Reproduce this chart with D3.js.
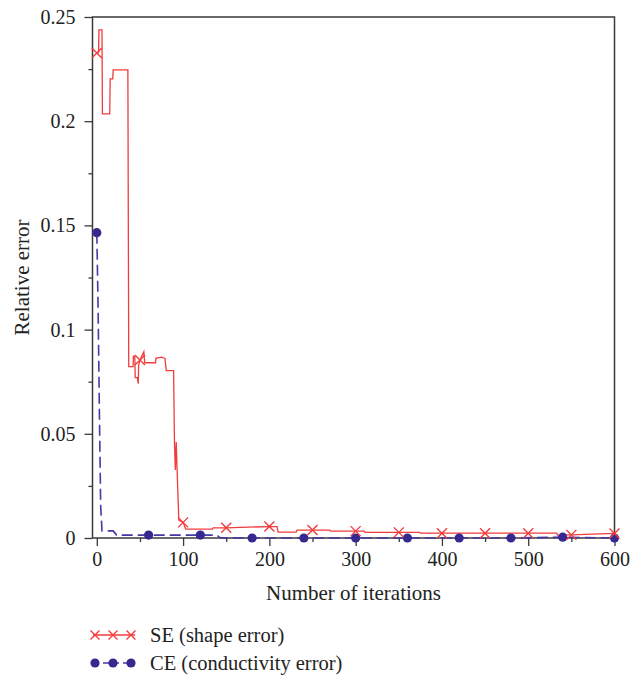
<!DOCTYPE html>
<html>
<head>
<meta charset="utf-8">
<script src="https://cdn.jsdelivr.net/npm/d3@7"></script>
<style>
  body { margin: 0; background: #fff; }
</style>
</head>
<body>
<div id="chart"></div>
<script>
// SE (shape error) curve
const seIter = [0, 2, 2.5, 6, 6.5, 15, 15.5, 18.5, 19, 36, 37, 42, 42.5, 44, 44.5, 47, 48, 48.5, 50,
  54.5, 55.5, 68, 68.5, 75, 79, 80.5, 89, 90, 91, 92, 95, 100, 103, 134, 135, 150, 200, 209, 210,
  231, 232, 250, 270, 271, 300, 310, 311, 350, 374, 375, 400, 450, 500, 533, 534, 550, 600];
const seValue = [0.2327, 0.233, 0.2438, 0.2438, 0.2035, 0.2035, 0.2203, 0.2203, 0.2246, 0.2246,
  0.0822, 0.0822, 0.0873, 0.0873, 0.077, 0.077, 0.074, 0.083, 0.0854,
  0.0894, 0.0841, 0.0841, 0.0862, 0.0868, 0.0862, 0.0803, 0.0803, 0.0456, 0.0326, 0.046, 0.0086,
  0.0075, 0.0043, 0.0043, 0.0049, 0.0049, 0.0055, 0.0055, 0.0028,
  0.0028, 0.0038, 0.0038, 0.0038, 0.0033, 0.0033, 0.0033, 0.0027, 0.0027, 0.0027, 0.0023,
  0.0023, 0.0023, 0.0023, 0.0023, 0.0014, 0.0015, 0.0022];

// CE (conductivity error) curve
const ceIter = [0, 1.5, 3, 4.5, 6, 19, 23, 60, 120, 139, 143, 180, 240, 300, 360, 420, 480, 540, 600];
const ceValue = [0.1465, 0.11, 0.06, 0.015, 0.0034, 0.0034, 0.0014, 0.0014, 0.0014, 0.0014, 0.0001,
  0, 0, 0, 0, 0, 0, 0.0004, 0];

const seMarkStep = 50;
const ceMarkStep = 60;

const xMajor = [0, 100, 200, 300, 400, 500, 600];
const xMinor = [50, 150, 250, 350, 450, 550];
const yMajor = [0, 0.05, 0.1, 0.15, 0.2, 0.25];
const yMinor = [0.025, 0.075, 0.125, 0.175, 0.225];
const yLabels = ["0", "0.05", "0.1", "0.15", "0.2", "0.25"];

const legendLabels = ["SE (shape error)", "CE (conductivity error)"];

const width = 643, height = 677;
const red = "#f23b3b", blue = "#35298f", axisColor = "#3a3a3a";
const serif = "'Liberation Serif', 'DejaVu Serif', serif";

const svg = d3.select("#chart").append("svg")
  .attr("width", width).attr("height", height);

const x = d3.scaleLinear().domain([-5, 600]).range([92.5, 614.5]);
const y = d3.scaleLinear().domain([0, 0.25]).range([538, 17]);

const seData = seIter.map((d, i) => [d, seValue[i]]);
const ceData = ceIter.map((d, i) => [d, ceValue[i]]);

// axes
svg.append("g").attr("transform", `translate(0,${y(0)})`)
  .call(d3.axisBottom(x).tickValues(xMajor).tickSize(8).tickPadding(6).tickFormat(d3.format("d")));
svg.append("g").attr("transform", `translate(0,${y(0)})`)
  .call(d3.axisBottom(x).tickValues(xMinor).tickSize(4).tickFormat(""));
svg.append("g").attr("transform", `translate(${x.range()[0]},0)`)
  .call(d3.axisLeft(y).tickValues(yMajor).tickSize(8).tickPadding(9).tickFormat((d, i) => yLabels[i]));
svg.append("g").attr("transform", `translate(${x.range()[0]},0)`)
  .call(d3.axisLeft(y).tickValues(yMinor).tickSize(4).tickFormat(""));

svg.selectAll(".domain").remove();
svg.selectAll(".tick line").attr("stroke", axisColor).attr("stroke-width", 1.3);
svg.selectAll(".tick text")
  .style("font-family", serif).style("font-size", "20px").attr("fill", "#222");

// frame
svg.append("rect")
  .attr("x", x.range()[0]).attr("y", y(0.25))
  .attr("width", x.range()[1] - x.range()[0]).attr("height", y(0) - y(0.25))
  .attr("fill", "none").attr("stroke", axisColor).attr("stroke-width", 1.5);

// CE dashed line with dots
const line = d3.line().x(d => x(d[0])).y(d => y(d[1]));
svg.append("path").datum(ceData)
  .attr("d", line).attr("fill", "none")
  .attr("stroke", "#4538a3").attr("stroke-width", 1.6).attr("stroke-dasharray", "11,5");

// SE solid line
svg.append("path").datum(seData)
  .attr("d", line).attr("fill", "none")
  .attr("stroke", red).attr("stroke-width", 1.3);

function cross(g, cx, cy, s) {
  g.append("path")
    .attr("d", `M${cx - s},${cy - s}L${cx + s},${cy + s}M${cx - s},${cy + s}L${cx + s},${cy - s}`)
    .attr("stroke", red).attr("stroke-width", 1.4).attr("fill", "none");
}

svg.append("g").selectAll("circle")
  .data(ceData.filter(d => d[0] % ceMarkStep === 0))
  .join("circle")
  .attr("cx", d => x(d[0])).attr("cy", d => y(d[1]))
  .attr("r", 4.6).attr("fill", blue);

const seMarks = svg.append("g");
seData.filter(d => d[0] % seMarkStep === 0)
  .forEach(d => cross(seMarks, x(d[0]), y(d[1]), 5));

// axis titles
svg.append("text")
  .attr("x", (x.range()[0] + x.range()[1]) / 2).attr("y", 600)
  .attr("text-anchor", "middle")
  .style("font-family", serif).style("font-size", "21px").attr("fill", "#222")
  .text("Number of iterations");
svg.append("text")
  .attr("transform", `translate(29,${(y(0) + y(0.25)) / 2}) rotate(-90)`)
  .attr("text-anchor", "middle")
  .style("font-family", serif).style("font-size", "21px").attr("fill", "#222")
  .text("Relative error");

// legend
const leg = svg.append("g");
const l1 = 635, l2 = 663;
leg.append("line").attr("x1", 93).attr("x2", 135).attr("y1", l1).attr("y2", l1)
  .attr("stroke", red).attr("stroke-width", 1.3);
[95, 113, 131].forEach(cx => cross(leg, cx, l1, 4.5));
leg.append("line").attr("x1", 93).attr("x2", 135).attr("y1", l2).attr("y2", l2)
  .attr("stroke", "#4538a3").attr("stroke-width", 1.6).attr("stroke-dasharray", "6,4");
[95, 113, 131].forEach(cx => leg.append("circle").attr("cx", cx).attr("cy", l2).attr("r", 4.6).attr("fill", blue));
leg.selectAll("text.lg").data(legendLabels).join("text")
  .attr("class", "lg")
  .attr("x", 150).attr("y", (d, i) => (i ? l2 : l1) + 7)
  .style("font-family", serif).style("font-size", "20.5px").attr("fill", "#222")
  .text(d => d);
</script>
</body>
</html>
